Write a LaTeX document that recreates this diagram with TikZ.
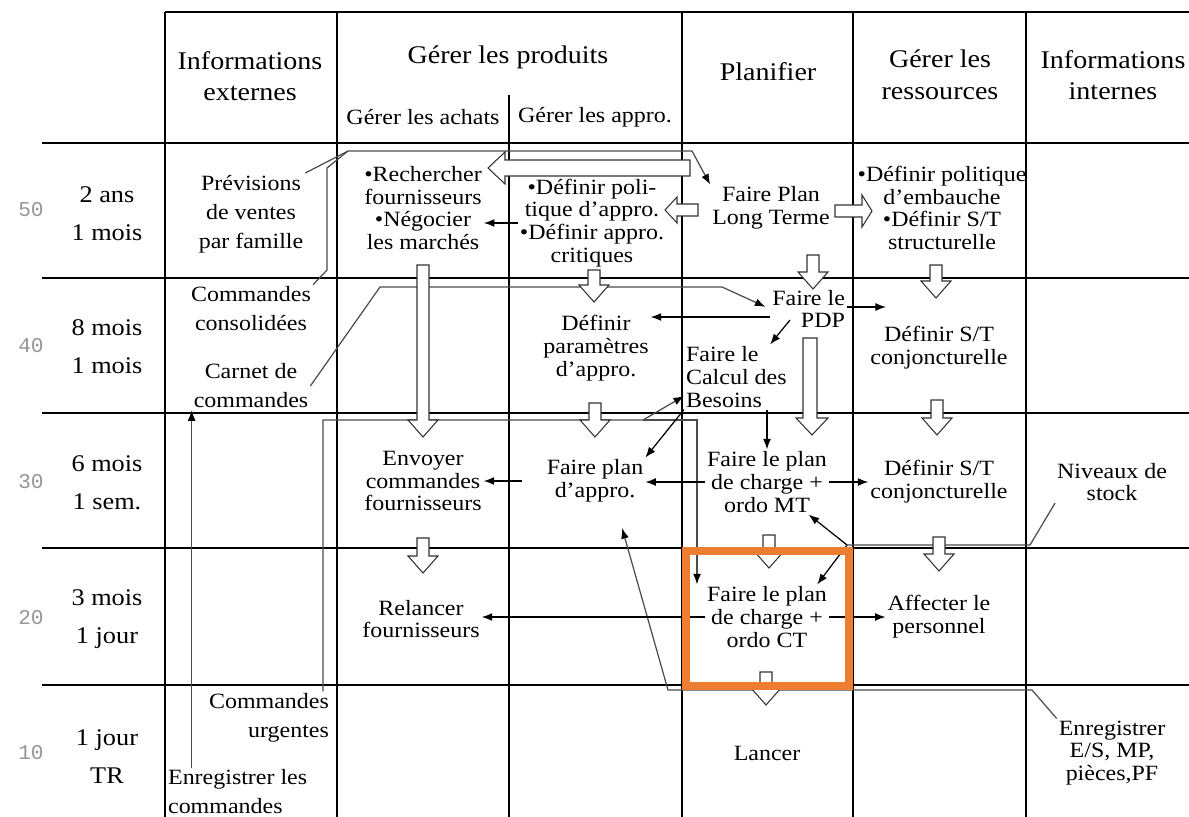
\documentclass[tikz,border=0pt]{standalone}
\usepackage{fontspec}
\setmainfont[FakeStretch=1.1]{Liberation Serif}
\newfontfamily\chiffres{Liberation Mono}
\usetikzlibrary{arrows.meta}

\definecolor{cadre}{RGB}{237,125,49}
\definecolor{gris}{RGB}{150,150,150}

\tikzset{
  grille/.style={line width=1.1pt},
  tete/.style={font=\fontsize{14.5}{18}\selectfont, align=center, inner sep=1pt},
  soustete/.style={font=\fontsize{12.4}{13}\selectfont, inner sep=1pt},
  duree/.style={font=\fontsize{13.6}{21.6}\selectfont, align=center, inner sep=1pt},
  niveau/.style={font=\chiffres\fontsize{12}{12}\selectfont, text=gris, inner sep=1pt},
  txt/.style={font=\fontsize{12.4}{13}\selectfont, align=center, inner sep=1pt},
  txtext/.style={font=\fontsize{12.4}{16.5}\selectfont, inner sep=1pt},
  fl/.style={line width=0.7pt, -{Latex[length=6pt,width=4.5pt,color=black]}},
  info/.style={line width=0.7pt, draw=black!70},
  creux/.style={draw=black!80, fill=white, line width=0.6pt}
}

\newcommand{\creuxbas}[3]{%
  \draw[creux] (#1-6,#2) -- (#1+6,#2) -- (#1+6,#3-17) -- (#1+15,#3-17)
    -- (#1,#3) -- (#1-15,#3-17) -- (#1-6,#3-17) -- cycle;}

\begin{document}
\begin{tikzpicture}[x=0.02cm,y=-0.02cm]
\useasboundingbox (0,0) rectangle (1189,817);

\draw[grille] (165,12) -- (1189,12);
\foreach \y in {143,278,413,548,685}
  \draw[grille] (42,\y) -- (1189,\y);
\foreach \x in {165,337,682,853,1026}
  \draw[grille] (\x,12) -- (\x,817);
\draw[grille] (509,95) -- (509,817);

\node[tete] (hext) at (250,76) {Informations\\externes};
\node[tete] (hprod) at (508,57) {Gérer les produits};
\node[soustete] (hach) at (423,117) {Gérer les achats};
\node[soustete] (happ) at (595,117) {Gérer les appro.};
\node[tete] (hplan) at (768,72) {Planifier};
\node[tete] (hres) at (940,75) {Gérer les\\ressources};
\node[tete] (hint) at (1113,75) {Informations\\internes};

\node[niveau] (n50) at (31,210) {50};
\node[niveau] (n40) at (31,346) {40};
\node[niveau] (n30) at (31,482) {30};
\node[niveau] (n20) at (31,618) {20};
\node[niveau] (n10) at (31,753) {10};
\node[duree] (d50) at (107,214) {2 ans\\1 mois};
\node[duree] (d40) at (107,347) {8 mois\\1 mois};
\node[duree] (d30) at (107,483) {6 mois\\1 sem.};
\node[duree] (d20) at (107,619) {3 mois\\1 jour};
\node[duree] (d10) at (107,757) {1 jour\\TR};

\node[txtext, align=center] (prev) at (251,214) {Prévisions\\de ventes\\par famille};
\node[txtext, align=center] (ccons) at (251,309) {Commandes\\consolidées};
\node[txtext, align=center] (carnet) at (251,386) {Carnet de\\commandes};
\node[txtext, align=right, anchor=east] (curg) at (331,718) {Commandes\\urgentes};
\node[txtext, align=left, anchor=west] (enrc) at (166,792) {Enregistrer les\\commandes};

\node[txt] (rech) at (423,208) {•Rechercher\\fournisseurs\\•Négocier\\les marchés};
\node[txt] (defpol) at (592,223) {•Définir poli-\\tique d’appro.\\•Définir appro.\\critiques};
\node[txt] (fplt) at (771,208) {Faire Plan\\Long Terme};
\node[txt] (defemb) at (942,208) {•Définir politique\\d’embauche\\•Définir S/T\\structurelle};

\node[txt] (defpar) at (596,348) {Définir\\paramètres\\d’appro.};
\node[txt, align=right, anchor=east] (pdp) at (847,309) {Faire le\\PDP};
\node[txt, align=left, anchor=west] (cbn) at (684,377) {Faire le\\Calcul des\\Besoins};
\node[txt] (sto2) at (939,348) {Définir S/T\\conjoncturelle};

\node[txt] (env) at (423,481) {Envoyer\\commandes\\fournisseurs};
\node[txt] (fpa) at (595,481) {Faire plan\\d’appro.};
\node[txt] (pcmt) at (767,482) {Faire le plan\\de charge +\\ordo MT};
\node[txt] (sto3) at (939,482) {Définir S/T\\conjoncturelle};
\node[txt] (niv) at (1112,482) {Niveaux de\\stock};

\node[txt] (rel) at (421,619) {Relancer\\fournisseurs};
\node[txt] (pcct) at (767,617) {Faire le plan\\de charge +\\ordo CT};
\node[txt] (aff) at (939,617) {Affecter le\\personnel};

\node[txt] (lancer) at (767,753) {Lancer};
\node[txt] (enres) at (1112,753) {Enregistrer\\E/S, MP,\\pièces,PF};

\coordinate (p1) at (348,151);
\coordinate (p2) at (692,151);
\coordinate (p3) at (327,270);
\coordinate (p4) at (327,168);
\coordinate (p5) at (380,287);
\coordinate (p6) at (722,287);
\coordinate (p7) at (323,420);
\coordinate (p8) at (643,420);
\coordinate (p9) at (697,420);
\coordinate (p10) at (1030,545);
\coordinate (p11) at (847,545);
\coordinate (p12) at (1032,690);
\coordinate (p13) at (668,690);
\coordinate (q1) at (790,320);
\coordinate (q2) at (886,307);

\draw[info,fl] (prev.north east) -- (p1) -- (p2) -- (fplt.north west);
\draw[info] (ccons.north east) -- (p3) -- (p4) -- (p1);
\draw[info,fl,shorten >=3pt] (carnet.east) -- (p5) -- (p6) -- (pdp.west);
\draw[info,fl] (enrc.north west -| carnet.south west) -- (carnet.south west);
\draw[info,fl] (curg.north east -| p7) -- (p7) -- (p8) -- (cbn.200);
\draw[info,fl] (p8) -- (p9) -- (p9 |- pcct.north);
\draw[info] (niv.south west) -- (p10) -- (p11);
\draw[fl] (p11) -- (pcmt.-38);
\draw[fl] (p11) -- (pcct.33);
\draw[info,fl,shorten >=14pt] (enres.north west) -- (p12) -- (p13) -- (fpa.-49);

\draw[fl] (defpol.west) -- (rech.east |- defpol.west);
\draw[fl] (pdp.west |- 0,317) -- (defpar.east |- 0,317);
\draw[fl] (q1) -- (cbn.44);
\draw[fl] (pdp.east |- q2) -- (q2);
\draw[fl] (cbn.south -| pcmt.north) -- (pcmt.north);
\draw[fl] (cbn.south west) -- (fpa.north east);
\draw[fl] (pcmt.west) -- (fpa.east |- pcmt.west);
\draw[fl] (pcmt.east) -- (sto3.west |- pcmt.east);
\draw[fl,shorten <=13pt] (fpa.west) -- (env.east |- fpa.west);
\draw[fl] (pcct.west) -- (rel.east |- pcct.west);
\draw[fl] (pcct.east) -- (aff.west |- pcct.east);

\draw[creux] (690,160) -- (505,160) -- (505,152) -- (488,168) -- (505,184) -- (505,176) -- (690,176) -- cycle;
\draw[creux] (698,204) -- (677,204) -- (677,197) -- (665,210) -- (677,223) -- (677,216) -- (698,216) -- cycle;
\draw[creux] (835,205) -- (862,205) -- (862,195) -- (872,211) -- (862,227) -- (862,217) -- (835,217) -- cycle;
\creuxbas{423}{265}{437}
\creuxbas{423}{538}{573}
\creuxbas{594}{270}{302}
\creuxbas{595}{403}{437}
\creuxbas{813}{255}{289}
\draw[creux] (803,338) -- (817,338) -- (817,418) -- (828,418) -- (812,435) -- (796,418) -- (803,418) -- cycle;
\creuxbas{936}{265}{298}
\creuxbas{937}{400}{435}
\creuxbas{939}{537}{571}
\creuxbas{769}{535}{568}
\creuxbas{766}{672}{705}

\draw[draw=cadre, line width=5pt] (686,551) rectangle (849,686);
\end{tikzpicture}
\end{document}
